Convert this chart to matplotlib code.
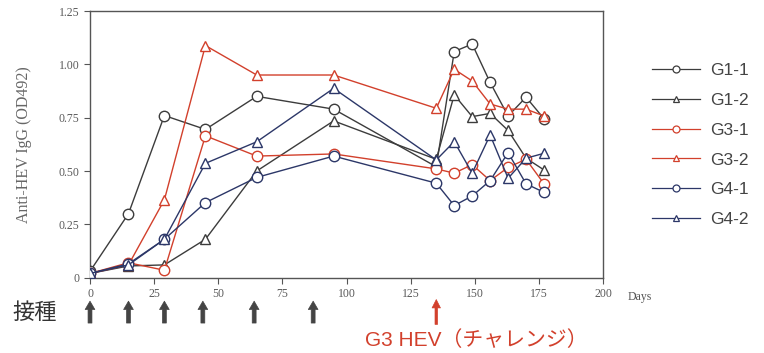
import matplotlib
matplotlib.use("Agg")
import matplotlib.pyplot as plt

# sampling days
days = [0, 15, 29, 45, 65, 95, 135, 142, 149, 156, 163, 170, 177]

g1_1 = [0.03, 0.30, 0.76, 0.695, 0.85, 0.79, 0.52, 1.06, 1.095, 0.915, 0.758, 0.846, 0.745]
g1_2 = [0.02, 0.055, 0.06, 0.18, 0.50, 0.735, 0.555, 0.857, 0.755, 0.77, 0.69, 0.56, 0.505]
g3_1 = [0.02, 0.07, 0.035, 0.665, 0.57, 0.58, 0.51, 0.49, 0.53, 0.455, 0.517, 0.555, 0.44]
g3_2 = [0.02, 0.06, 0.365, 1.088, 0.95, 0.95, 0.794, 0.977, 0.922, 0.814, 0.79, 0.79, 0.758]
g4_1 = [0.02, 0.065, 0.18, 0.352, 0.47, 0.57, 0.443, 0.338, 0.383, 0.455, 0.586, 0.44, 0.40]
g4_2 = [0.02, 0.06, 0.18, 0.536, 0.637, 0.8875, 0.552, 0.638, 0.49, 0.669, 0.466, 0.56, 0.583]

inject_days = [0, 15, 29, 44, 64, 87]
challenge_day = 135

BLACK = "#3c3c3c"
RED = "#d2402c"
BLUE = "#2c3768"

series = [
    ("G1-1", g1_1, BLACK, "o"),
    ("G1-2", g1_2, BLACK, "^"),
    ("G3-1", g3_1, RED, "o"),
    ("G3-2", g3_2, RED, "^"),
    ("G4-1", g4_1, BLUE, "o"),
    ("G4-2", g4_2, BLUE, "^"),
]

fig = plt.figure(figsize=(7.64, 3.53), dpi=100)
ax = fig.add_axes([90 / 764, 1 - 277.7 / 353, 513 / 764, 266.7 / 353])

handles = []
for name, vals, col, mk in series:
    ax.plot(days, vals, color=col, lw=1.0, marker=mk, ms=7.5,
            mfc="white", mec=col, mew=1.0, zorder=3)
    h, = ax.plot([], [], color=col, lw=0.9, marker=mk, ms=5,
                 mfc="white", mec=col, mew=0.9, label=name)
    handles.append(h)

ax.set_xlim(0, 200)
ax.set_ylim(0, 1.25)
ax.set_xticks(range(0, 201, 25))
ax.set_yticks([0, 0.25, 0.5, 0.75, 1.0, 1.25])
ax.set_yticklabels(["0", "0.25", "0.50", "0.75", "1.00", "1.25"])
for sp in ax.spines.values():
    sp.set_color("#555555")
    sp.set_linewidth(1.0)
ax.tick_params(direction="out", length=4, width=0.8, color="#555555",
               labelsize=8.5, labelcolor="#5a5a5a")
for lab in ax.get_xticklabels() + ax.get_yticklabels():
    lab.set_family("Liberation Serif")
ax.set_ylabel("Anti-HEV IgG (OD492)", family="Liberation Serif",
              fontsize=11.5, color="#666666", labelpad=19)

fig.text(628 / 764, 1 - 297 / 353, "Days", family="Liberation Serif",
         fontsize=8.5, color="#555555", va="center")

fig.legend(handles=handles, loc="upper left",
           bbox_to_anchor=(643 / 764, 1 - 54 / 353), frameon=False,
           labelcolor="#444444", handlelength=2.8,
           handletextpad=0.55, labelspacing=0.85, borderpad=0,
           prop={"family": "Liberation Sans", "size": 12.5})

# arrows below the axis
arrow_style = "simple,head_width=0.7,head_length=0.6,tail_width=0.28"
for d in inject_days:
    ax.annotate("", xy=(d, -0.088), xytext=(d, -0.17),
                xycoords=("data", "axes fraction"),
                textcoords=("data", "axes fraction"),
                arrowprops=dict(arrowstyle=arrow_style, color="#444444",
                                lw=0.5, shrinkA=0, shrinkB=0),
                annotation_clip=False)
ax.annotate("", xy=(challenge_day, -0.082), xytext=(challenge_day, -0.175),
            xycoords=("data", "axes fraction"),
            textcoords=("data", "axes fraction"),
            arrowprops=dict(arrowstyle="simple,head_width=0.6,head_length=0.6,tail_width=0.18",
                            color=RED, lw=0.5, shrinkA=0, shrinkB=0),
            annotation_clip=False)

fig.text(12 / 764, 1 - 312 / 353, "接種", fontsize=16, color="#333333",
         va="center", family=["Noto Sans CJK JP", "DejaVu Sans"])
fig.text(476 / 764, 1 - 340 / 353, "G3 HEV（チャレンジ）", fontsize=15,
         color=RED, va="center", ha="center",
         family=["Liberation Sans", "Noto Sans CJK JP"])

fig.savefig("out.png", dpi=100)
